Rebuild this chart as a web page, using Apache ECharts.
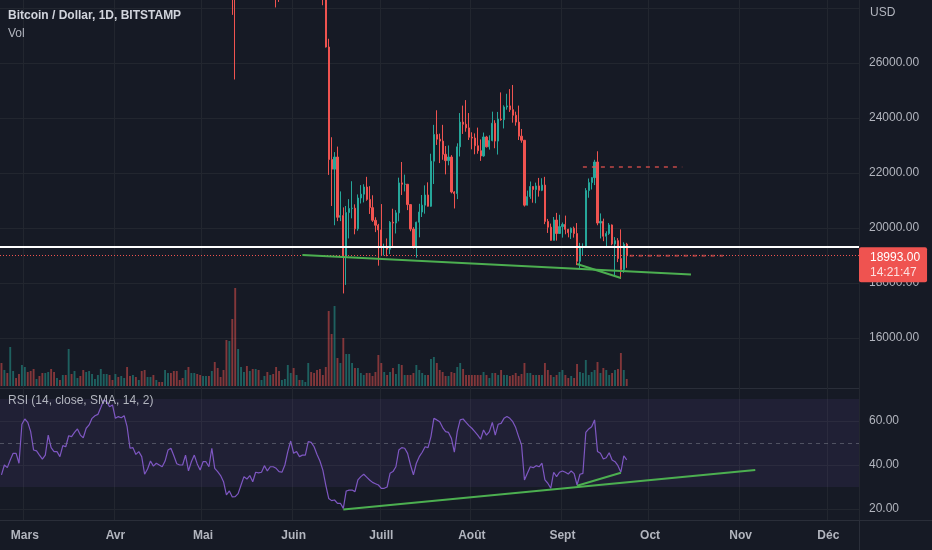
<!DOCTYPE html>
<html><head><meta charset="utf-8">
<script src="https://cdn.jsdelivr.net/npm/echarts@6/dist/echarts.min.js"></script>
<style>html,body{margin:0;padding:0;background:#161a25;}#c{width:932px;height:550px;}</style>
</head><body><div id="c"></div>
<script>
// ---------- data ----------
const startDate = [2022, 1, 21];     // 21 Feb 2022 (month 0-based)
const dayCount = 294;                // axis runs to mid December
const monthLabels = ['Janv','Févr','Mars','Avr','Mai','Juin','Juill','Août','Sept','Oct','Nov','Déc'];
const symbolTitle = 'Bitcoin / Dollar, 1D, BITSTAMP';
const rsiTitle = 'RSI (14, close, SMA, 14, 2)';
const countdown = '14:21:47';

// [open, high, low, close]
const candleOHLC = [
 [38350,39480,36830,37020],[37020,38430,36350,38250],[38250,39250,37040,37250],[37250,38980,34330,38330],
 [38330,39700,38010,39220],[39220,40290,38560,39120],[39120,39850,37030,37710],[37710,43760,37480,43180],
 // Mar
 [43180,44950,42820,44420],[44420,45400,43330,43920],[43920,44100,41850,42450],[42450,42520,38600,39150],
 [39150,39670,38630,39400],[39400,39650,38090,38420],[38420,39550,37160,38060],[38060,39360,37870,38730],
 [38730,42600,38670,41940],[41940,42050,38560,39440],[39440,40240,38230,38790],[38790,39330,38670,38810],
 [38810,39280,37590,37780],[37780,39890,37580,39670],[39670,39870,38150,39280],[39280,41720,38850,41120],
 [41120,41440,40540,40920],[40920,42320,40160,41770],[41770,42380,41480,42250],[42250,42300,40930,41260],
 [41260,41540,40550,41000],[41000,43350,40900,42360],[42360,43000,41830,42890],[42890,44230,42580,43960],
 [43960,45060,43590,44350],[44350,44790,44110,44500],[44500,46930,44420,46820],[46820,48190,46680,47130],
 [47130,48100,46940,47460],[47460,47700,46560,47070],[47070,47570,45200,45520],
 // Apr
 [45520,46700,44230,46280],[46280,47200,45800,45810],[45810,47420,45600,46400],[46400,46880,45120,46620],
 [46620,47150,45390,45500],[45500,45500,43120,43170],[43170,43900,42750,43450],[43450,43970,42120,42290],
 [42290,42800,42130,42780],[42780,43430,41860,42160],[42160,42410,39200,39530],[39530,40700,39250,40080],
 [40080,41560,39600,41150],[41150,41500,39570,39940],[39940,40850,39780,40550],[40550,40700,40030,40380],
 [40380,40600,39560,39680],[39680,41100,38560,40800],[40800,41740,40550,41500],[41500,42200,40850,41370],
 [41370,42960,39750,40480],[40480,40800,39180,39710],[39710,39990,39310,39470],[39470,39900,38990,39450],
 [39450,40590,38250,40430],[40430,40770,37720,38120],[38120,39450,37900,39240],[39240,40330,38890,39740],
 [39740,39900,38200,38600],[38600,38800,37600,37630],
 // May
 [37630,38670,37400,38470],[38470,39150,38100,38520],[38520,38630,37520,37720],[37720,39980,37660,39700],
 [39700,39840,35860,36560],[36560,36650,35280,36010],[36010,36130,34800,35470],[35470,35500,33720,34060],
 [34060,34260,30050,30100],[30100,32650,29740,31010],[31010,32160,27750,29050],[29050,30050,25400,28960],
 [28960,31100,28750,29280],[29280,30280,28630,30080],[30080,31400,29490,31300],[31300,31300,29090,29860],
 [29860,30750,29450,30420],[30420,30650,28680,28720],[28720,30500,28660,30300],[30300,30730,28750,29200],
 [29200,29590,28960,29430],[29430,30450,29240,30290],[30290,30640,28880,29100],[29100,29820,28530,29650],
 [29650,30200,29310,29540],[29540,29850,28020,29200],[29200,29370,28220,28630],[28630,29200,28560,29030],
 [29030,29520,28830,29470],[29470,32200,29300,31730],[31730,32380,31210,31790],
 // Jun
 [31790,31950,29330,29800],[29800,30650,29600,30450],[30450,30680,29330,29700],[29700,29950,29480,29860],
 [29860,30150,29520,29910],[29910,31750,29880,31370],[31370,31560,29220,31130],[31130,31330,29850,30210],
 [30210,30690,29950,30110],[30110,30350,28850,29080],[29080,29430,28100,28420],[28420,28550,26560,26580],
 [26580,26880,21930,22490],[22490,23300,20800,22140],[22140,22760,20100,22580],[22580,22960,20250,20390],
 [20390,21330,20250,20450],[20450,20750,17620,18970],[18970,20800,17930,20560],[20560,21050,19620,20710],
 [20710,21700,20350,20720],[20720,20860,19770,19970],[19970,21220,19900,21090],[21090,21560,20890,21230],
 [21230,21590,20930,21490],[21490,21860,20990,21040],[21040,21520,20510,20740],[20740,21190,20220,20280],
 [20280,20390,19850,20100],[20100,20150,18630,19930],
 // Jul
 [19930,20870,19010,19290],[19290,19430,19000,19310],[19310,19620,18970,19230],[19230,20250,19050,20210],
 [20210,20700,19330,20180],[20180,20650,19800,20550],[20550,21830,20240,21640],[21640,22400,21200,21590],
 [21590,21940,21330,21590],[21590,21600,20650,20850],[20850,20870,19880,19960],[19960,20030,19250,19320],
 [19320,20230,18920,20210],[20210,20880,19660,20580],[20580,21200,20400,20830],[20830,21550,20520,21200],
 [21200,21660,20780,20790],[20790,22700,20770,22430],[22430,23750,21600,23400],[23400,24280,23020,23230],
 [23230,23430,22360,23160],[23160,23750,22480,22680],[22680,22980,21950,22450],[22450,23000,22280,22580],
 [22580,22650,21260,21310],[21310,21340,20710,21250],[21250,23080,21050,22950],[22950,24180,22600,23850],
 [23850,24450,23420,23770],[23770,24650,23500,23640],[23640,24180,23200,23300],
 // Aug
 [23300,23480,22860,23270],[23270,23440,22680,22990],[22990,23650,22700,22810],[22810,23220,22440,22620],
 [22620,23470,22590,23310],[23310,23350,22930,22950],[22950,23370,22850,23180],[23180,24230,23150,23810],
 [23810,23920,22900,23160],[23160,24220,22670,23960],[23960,24930,23900,23940],[23940,24460,23620,24400],
 [24400,24880,24300,24440],[24440,25050,24220,24300],[24300,25200,23830,24100],[24100,24230,23720,23850],
 [23850,24450,23200,23340],[23340,23600,23100,23190],[23190,23200,20780,20830],[20830,21360,20820,21140],
 [21140,21690,21060,21510],[21510,21520,20920,21400],[21400,21650,20900,21530],[21530,21820,21140,21370],
 [21370,21810,21340,21560],[21560,21860,20140,20240],[20240,20330,19820,20030],[20030,20160,19570,19550],
 [19550,20400,19550,20290],[20290,20550,19540,19800],[19800,20480,19800,20050],
 // Sep
 [20050,20200,19650,20130],[20130,20450,19770,19950],[19950,19970,19660,19830],[19830,20020,19600,19990],
 [19990,20050,19650,19800],[19800,20180,18650,18790],[18790,19460,18530,19290],[19290,19440,19010,19320],
 [19320,21450,19300,21360],[21360,21800,21100,21650],[21650,21850,21400,21830],[21830,22480,21560,22400],
 [22400,22790,20100,20180],[20180,20530,19620,20240],[20240,20340,19520,19700],[19700,19880,19320,19800],
 [19800,20180,19750,20110],[20110,20130,19370,19420],[19420,19670,18240,19540],[19540,19630,18760,18890],
 [18890,19950,18150,18490],[18490,19480,18370,19410],[19410,19460,18550,18993]
];

// daily volume (BTC)
const volumes = [
 5750,4000,3250,9750,3750,2000,3000,5250,
 4750,3500,3750,4250,1750,2500,3250,3250,3500,4250,3500,2000,1500,2750,2750,9250,3000,3750,2000,2500,4000,3500,3750,3000,1750,2750,4250,3000,3000,2750,1500,
 3000,2250,2500,2000,4750,2500,2750,2250,1500,3750,4000,2250,2250,2750,1500,1000,1000,4000,3250,3250,3750,3750,1500,2000,4000,4750,3250,3250,3000,2750,
 2500,2500,2500,3750,6000,4500,2250,4000,11500,11250,16750,24500,9250,4750,3500,5000,3750,4250,4250,4000,1500,2500,3500,2750,3000,4750,3750,1500,1750,5250,3250,
 4500,2750,1500,1500,1000,5750,3500,3250,4000,4250,2750,4750,18750,13000,20000,7000,5750,12000,8000,8000,5750,4500,4500,3250,2750,3250,3250,2500,3500,7750,
 5750,3500,2750,3500,4500,3000,5500,5250,2750,2750,2750,3250,5250,4000,3250,2750,2750,6750,7250,5750,4000,3500,2500,2500,3500,3250,4750,5750,4250,2750,2750,
 2750,2750,2750,2750,3500,2750,2000,3250,3250,2750,4000,2750,2750,2500,2750,3250,2500,3000,5750,3250,3250,2750,2750,2750,2750,5750,4000,2750,2250,2750,3500,
 4000,2750,2000,2500,2000,5500,3500,3250,6500,2750,3500,4000,6000,3250,4500,4000,2750,3250,4000,4250,8250,4000,1750
];

const rsiValues = [
 35.5,40.0,38.8,42.3,45.3,45.3,40.8,58.5,
 60.9,59.4,55.2,46.8,46.4,44.5,42.7,44.5,53.6,47.9,46.1,46.1,43.8,48.8,48.3,53.3,52.9,54.8,56.4,53.6,52.4,56.7,58.2,61.2,62.4,63.0,66.1,69.5,68.8,66.5,67.3,
 61.2,62.0,61.5,62.4,57.4,47.6,47.9,44.8,46.1,43.8,35.8,38.2,41.8,39.5,40.8,40.0,39.2,41.8,46.8,47.6,44.2,40.6,40.0,40.0,44.5,37.3,41.5,44.5,40.5,37.7,
 41.5,41.5,39.2,47.6,38.5,37.0,35.2,32.4,26.4,28.2,25.5,25.6,27.0,30.9,34.7,33.6,35.2,32.4,36.7,36.4,36.7,39.7,37.3,39.2,39.2,38.5,37.0,36.7,40.0,46.1,50.9,
 45.3,46.1,43.8,44.5,44.5,50.6,50.3,48.3,44.8,41.8,37.7,30.9,24.8,23.8,24.1,22.6,22.6,20.3,28.2,28.6,28.6,27.9,33.2,34.7,35.8,34.5,33.2,32.1,31.5,30.9,
 29.4,29.4,30.0,36.2,37.0,39.2,46.8,47.9,47.6,45.3,40.0,35.5,40.8,43.8,45.8,48.3,47.9,52.9,61.2,60.5,59.7,57.0,55.2,54.8,52.1,45.8,55.2,60.5,60.9,59.4,57.9,
 56.7,55.2,53.6,51.7,55.9,53.6,55.2,59.4,53.6,58.5,58.9,61.2,62.0,61.2,59.7,57.0,52.9,49.1,33.2,36.2,39.2,38.8,39.7,39.2,40.8,33.2,31.7,29.4,36.7,34.7,36.7,
 37.3,36.7,35.9,37.3,36.1,30.9,35.8,36.2,54.8,56.4,57.4,60.5,46.1,45.3,42.7,43.3,45.6,42.3,41.5,39.7,36.7,44.2,42.3
];

// drawings
const keyLevel = 19330;
const supportLine = [['2022-06-04', 19020], ['2022-10-15', 18310]];
const wedgeLine = [['2022-09-06', 18690], ['2022-09-21', 18180]];
const resistanceDash = [['2022-09-08', 22220], ['2022-10-12', 22220]];
const closeDash = [['2022-09-24', 18993], ['2022-10-26', 18993]];
const rsiTrend = [['2022-06-18', 19.8], ['2022-11-06', 37.7]];
const rsiWedge = [['2022-09-06', 30.6], ['2022-09-21', 36.5]];
const rsiBand = [30, 70];
const rsiMid = 50;

// ---------- chart ----------
const categories = [];
const t0 = Date.UTC(startDate[0], startDate[1], startDate[2]);
for (let i = 0; i < dayCount; i++) categories.push(new Date(t0 + i * 86400000).toISOString().slice(0, 10));

const UP = '#26a69a', DOWN = '#ef5350';
const FONT = '"Liberation Sans", Arial, sans-serif';
const TXT = '#b2b5be';
const GRIDC = '#22262f';
const isMonthStart = (i, v) => typeof v === 'string' && v.slice(8) === '01';

const candleData = candleOHLC.map(([o, h, l, c]) => [o, c, l, h]);
const volData = volumes.map((v, i) => ({
  value: v,
  itemStyle: { color: candleOHLC[i][3] >= candleOHLC[i][0] ? 'rgba(38,166,154,0.5)' : 'rgba(239,83,80,0.5)' }
}));
const lastClose = candleOHLC[candleOHLC.length - 1][3];

const baseX = (gi) => ({
  type: 'category', gridIndex: gi, data: categories, boundaryGap: true,
  axisLine: { show: false }, axisTick: { show: false }, axisLabel: { show: false },
  splitLine: { show: false }
});

const x0 = baseX(0);
x0.splitLine = { show: true, interval: isMonthStart, lineStyle: { color: GRIDC, width: 1 } };
const x1 = baseX(1);
const x2 = baseX(2);
x2.splitLine = { show: true, interval: isMonthStart, lineStyle: { color: GRIDC, width: 1 } };
x2.axisLabel = {
  show: true, interval: isMonthStart, color: TXT, fontSize: 12, fontWeight: 'bold', fontFamily: FONT, margin: 10,
  formatter: (v) => monthLabels[parseInt(v.slice(5, 7), 10) - 1]
};

const seg = (data, axis, style) => ({
  type: 'line', xAxisIndex: axis, yAxisIndex: axis, data: data, symbol: 'none',
  silent: true, animation: false, z: 5, lineStyle: style
});

const option = {
  backgroundColor: '#161a25',
  animation: false,
  grid: [
    { left: 0, right: 73, top: 0, bottom: 157 },
    { left: 0, right: 73, top: 100, bottom: 164 },
    { left: 0, right: 73, top: 388, bottom: 30 }
  ],
  xAxis: [x0, x1, x2],
  yAxis: [
    { type: 'value', gridIndex: 0, position: 'right', min: 14000, max: 28290, interval: 2000,
      axisLine: { show: false }, axisTick: { show: false },
      axisLabel: { color: TXT, fontSize: 12, fontFamily: FONT, margin: 10, align: 'left',
        formatter: (v) => (v >= 16000 && v <= 26000) ? v.toFixed(2) : '' },
      splitLine: { show: true, showMinLine: false, showMaxLine: false, lineStyle: { color: GRIDC } } },
    { type: 'value', gridIndex: 1, min: 0, max: 71500, show: false, splitLine: { show: false } },
    { type: 'value', gridIndex: 2, position: 'right', min: 15, max: 75, splitNumber: 3,
      axisLine: { show: false }, axisTick: { show: false },
      axisLabel: { color: TXT, fontSize: 12, fontFamily: FONT, margin: 10, align: 'left',
        showMinLabel: false, showMaxLabel: false,
        formatter: (v) => (v % 20 === 0) ? v.toFixed(2) : '' },
      splitLine: { show: true, showMinLine: false, showMaxLine: false, lineStyle: { color: GRIDC } } }
  ],
  graphic: [
    { type: 'line', silent: true, z: 0, shape: { x1: 859.5, y1: 0, x2: 859.5, y2: 550 }, style: { stroke: '#2a2e39', lineWidth: 1 } },
    { type: 'line', silent: true, z: 0, shape: { x1: 0, y1: 520.5, x2: 932, y2: 520.5 }, style: { stroke: '#2a2e39', lineWidth: 1 } },
    { type: 'line', silent: true, z: 0, shape: { x1: 0, y1: 388.5, x2: 859, y2: 388.5 }, style: { stroke: '#2a2e39', lineWidth: 1 } },
    { type: 'text', left: 8, top: 10, z: 10, style: { text: symbolTitle, fill: '#d1d4dc', font: 'bold 12px ' + FONT } },
    { type: 'text', left: 8, top: 28, z: 10, style: { text: 'Vol', fill: '#b2b5be', font: '12px ' + FONT } },
    { type: 'text', left: 8, top: 395, z: 10, style: { text: rsiTitle, fill: '#b2b5be', font: '12px ' + FONT } },
    { type: 'text', left: 870, top: 7, z: 10, style: { text: 'USD', fill: TXT, font: '12px ' + FONT } }
  ],
  series: [
    { type: 'bar', name: 'Vol', xAxisIndex: 1, yAxisIndex: 1, data: volData, barWidth: '65%', z: 1, silent: true },
    { type: 'candlestick', name: 'BTCUSD', xAxisIndex: 0, yAxisIndex: 0, data: candleData, barWidth: 1.7, z: 3,
      itemStyle: { color: UP, color0: DOWN, borderColor: UP, borderColor0: DOWN, borderWidth: 1 },
      markLine: {
        silent: true, symbol: ['none', 'none'], animation: false,
        data: [
          { yAxis: keyLevel, lineStyle: { color: '#ffffff', width: 2, type: 'solid' }, label: { show: false } },
          { yAxis: lastClose, lineStyle: { color: '#ef5350', width: 1, type: [1, 2] },
            label: { show: true, position: 'end', distance: 0, offset: [0, 9],
              formatter: '{a|' + lastClose.toFixed(2) + '}\n{b|' + countdown + '}',
              backgroundColor: '#ef5350', borderRadius: 2, padding: [3, 7, 2, 11],
              rich: {
                a: { color: '#ffffff', fontSize: 12, lineHeight: 15, fontFamily: FONT },
                b: { color: 'rgba(255,255,255,0.82)', fontSize: 12, lineHeight: 15, fontFamily: FONT }
              } } }
        ]
      } },
    seg(supportLine, 0, { color: '#4caf50', width: 2 }),
    seg(wedgeLine, 0, { color: '#4caf50', width: 2 }),
    seg(resistanceDash, 0, { color: 'rgba(239,83,80,0.6)', width: 2, type: [4, 5] }),
    seg(closeDash, 0, { color: 'rgba(239,83,80,0.6)', width: 2, type: [4, 5] }),
    { type: 'line', name: 'RSI', xAxisIndex: 2, yAxisIndex: 2, data: rsiValues, symbol: 'none', z: 3,
      lineStyle: { color: '#7e57c2', width: 1.2 },
      markArea: { silent: true, itemStyle: { color: 'rgba(126,87,194,0.1)' },
        data: [[{ yAxis: rsiBand[0] }, { yAxis: rsiBand[1] }]] },
      markLine: { silent: true, symbol: ['none', 'none'], label: { show: false },
        lineStyle: { color: 'rgba(120,123,134,0.55)', width: 1, type: [4, 4] },
        data: [{ yAxis: rsiMid }] } },
    seg(rsiTrend, 2, { color: '#4caf50', width: 2 }),
    seg(rsiWedge, 2, { color: '#4caf50', width: 2 })
  ]
};

const chart = echarts.init(document.getElementById('c'), null, { renderer: 'canvas' });
chart.setOption(option);
</script></body></html>
